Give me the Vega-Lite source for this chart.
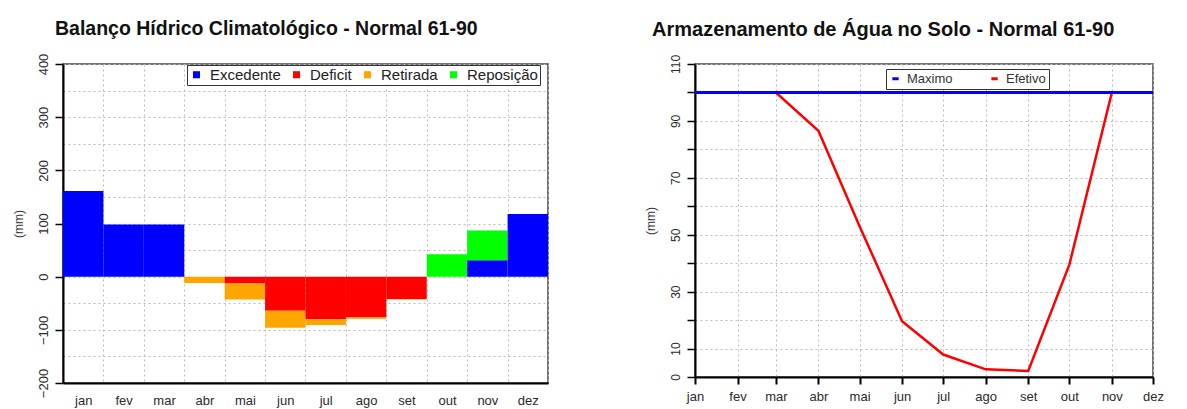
{
  "$schema": "https://vega.github.io/schema/vega-lite/v6.json",
  "background": "white",
  "padding": {"left": 11, "top": 17, "right": 0, "bottom": 0},
  "spacing": 94,
  "config": {
    "font": "Liberation Sans",
    "axis": {"labelFont": "Liberation Sans", "titleFont": "Liberation Sans", "labelColor": "#2a2a2a", "titleColor": "#333", "titleFontWeight": "normal"}
  },
  "resolve": {"scale": {"color": "independent"}, "legend": {"color": "independent"}},
  "hconcat": [
    {
      "width": 485,
      "height": 319,
      "view": {"stroke": "#444", "strokeWidth": 1.5},
      "title": {"text": "Balanço Hídrico Climatológico - Normal 61-90", "anchor": "start", "frame": "group", "dx": -8, "font": "Liberation Sans", "fontSize": 19.5, "fontWeight": "bold", "color": "#111", "offset": 14},
      "data": {"values": [
        {"mes": "jan", "tipo": "Excedente", "valor": 161},
        {"mes": "fev", "tipo": "Excedente", "valor": 98},
        {"mes": "mar", "tipo": "Excedente", "valor": 98},
        {"mes": "abr", "tipo": "Retirada", "valor": -12},
        {"mes": "mai", "tipo": "Deficit", "valor": -13},
        {"mes": "mai", "tipo": "Retirada", "valor": -30},
        {"mes": "jun", "tipo": "Deficit", "valor": -64},
        {"mes": "jun", "tipo": "Retirada", "valor": -32},
        {"mes": "jul", "tipo": "Deficit", "valor": -80},
        {"mes": "jul", "tipo": "Retirada", "valor": -11},
        {"mes": "ago", "tipo": "Deficit", "valor": -76},
        {"mes": "ago", "tipo": "Retirada", "valor": -3},
        {"mes": "set", "tipo": "Deficit", "valor": -42},
        {"mes": "set", "tipo": "Retirada", "valor": -1},
        {"mes": "out", "tipo": "Reposição", "valor": 42},
        {"mes": "nov", "tipo": "Excedente", "valor": 31},
        {"mes": "nov", "tipo": "Reposição", "valor": 56},
        {"mes": "dez", "tipo": "Excedente", "valor": 118}
      ]},
      "mark": {"type": "bar"},
      "encoding": {
        "x": {
          "field": "mes", "type": "nominal",
          "sort": ["jan", "fev", "mar", "abr", "mai", "jun", "jul", "ago", "set", "out", "nov", "dez"],
          "scale": {"domain": ["jan", "fev", "mar", "abr", "mai", "jun", "jul", "ago", "set", "out", "nov", "dez"], "paddingInner": 0, "paddingOuter": 0},
          "axis": {"title": null, "tickBand": "extent", "ticks": false, "labelAngle": 0, "labelFontSize": 13, "labelPadding": 11, "grid": true, "gridColor": "#bbb", "gridDash": [2, 3], "gridWidth": 1, "domainColor": "#000", "domainWidth": 2}
        },
        "y": {
          "field": "valor", "type": "quantitative", "stack": "zero",
          "scale": {"domain": [-200, 400], "nice": false},
          "axis": {
            "title": "(mm)", "titleFontSize": 12, "titlePadding": 12,
            "values": [-200, -150, -100, -50, 0, 50, 100, 150, 200, 250, 300, 350, 400],
            "labelExpr": "datum.value % 100 === 0 ? datum.label : ''",
            "labelAngle": -90, "labelFontSize": 13, "labelPadding": 5,
            "tickSize": 8, "tickColor": "#000", "tickWidth": 1.5,
            "tickOpacity": {"condition": {"test": "datum.value % 100 === 0", "value": 1}, "value": 0},
            "grid": true, "gridColor": "#bbb", "gridDash": [2, 3], "gridWidth": 1,
            "domainColor": "#000", "domainWidth": 2
          }
        },
        "color": {
          "field": "tipo", "type": "nominal",
          "sort": ["Excedente", "Deficit", "Retirada", "Reposição"],
          "scale": {"domain": ["Excedente", "Deficit", "Retirada", "Reposição"], "range": ["#0000ff", "#ff0000", "#ffa500", "#00ff00"]},
          "legend": {"title": null, "orient": "none", "legendX": 124, "legendY": 1, "direction": "horizontal", "symbolType": "square", "symbolSize": 50, "symbolStrokeWidth": 0, "labelFontSize": 15, "labelFont": "Liberation Sans", "labelColor": "#222", "strokeColor": "#333", "fillColor": "white", "padding": 2, "columnPadding": 8, "labelOffset": 6}
        },
        "order": {"field": "tipo", "sort": "ascending"}
      }
    },
    {
      "width": 458,
      "height": 313,
      "view": {"stroke": "#444", "strokeWidth": 1.5},
      "title": {"text": "Armazenamento de Água no Solo - Normal 61-90", "anchor": "start", "frame": "group", "dx": -43, "font": "Liberation Sans", "fontSize": 20, "fontWeight": "bold", "color": "#111", "offset": 14},
      "data": {"values": [
        {"data": "2001-01-01", "serie": "Maximo", "valor": 100},
        {"data": "2001-02-01", "serie": "Maximo", "valor": 100},
        {"data": "2001-03-01", "serie": "Maximo", "valor": 100},
        {"data": "2001-04-01", "serie": "Maximo", "valor": 100},
        {"data": "2001-05-01", "serie": "Maximo", "valor": 100},
        {"data": "2001-06-01", "serie": "Maximo", "valor": 100},
        {"data": "2001-07-01", "serie": "Maximo", "valor": 100},
        {"data": "2001-08-01", "serie": "Maximo", "valor": 100},
        {"data": "2001-09-01", "serie": "Maximo", "valor": 100},
        {"data": "2001-10-01", "serie": "Maximo", "valor": 100},
        {"data": "2001-11-01", "serie": "Maximo", "valor": 100},
        {"data": "2001-12-01", "serie": "Maximo", "valor": 100},
        {"data": "2001-01-01", "serie": "Efetivo", "valor": 100},
        {"data": "2001-02-01", "serie": "Efetivo", "valor": 100},
        {"data": "2001-03-01", "serie": "Efetivo", "valor": 100},
        {"data": "2001-04-01", "serie": "Efetivo", "valor": 86.5},
        {"data": "2001-05-01", "serie": "Efetivo", "valor": 53},
        {"data": "2001-06-01", "serie": "Efetivo", "valor": 19.6},
        {"data": "2001-07-01", "serie": "Efetivo", "valor": 7.9},
        {"data": "2001-08-01", "serie": "Efetivo", "valor": 2.7},
        {"data": "2001-09-01", "serie": "Efetivo", "valor": 2.1},
        {"data": "2001-10-01", "serie": "Efetivo", "valor": 39.5},
        {"data": "2001-11-01", "serie": "Efetivo", "valor": 100},
        {"data": "2001-12-01", "serie": "Efetivo", "valor": 100}
      ]},
      "encoding": {
        "x": {
          "field": "data", "type": "temporal",
          "scale": {"type": "utc", "nice": false},
          "axis": {
            "title": null, "tickCount": {"interval": "month", "step": 1},
            "labelExpr": "['jan','fev','mar','abr','mai','jun','jul','ago','set','out','nov','dez'][utcmonth(datum.value)]",
            "labelAngle": 0, "labelFontSize": 13, "labelPadding": 6, "labelFlush": false, "labelOverlap": false,
            "tickSize": 7, "tickColor": "#000", "tickWidth": 2,
            "grid": true, "gridColor": "#bbb", "gridDash": [2, 3], "gridWidth": 1,
            "domainColor": "#000", "domainWidth": 2
          }
        },
        "y": {
          "field": "valor", "type": "quantitative",
          "scale": {"domain": [0, 110], "nice": false},
          "axis": {
            "title": "(mm)", "titleFontSize": 12, "titlePadding": 12,
            "values": [0, 10, 20, 30, 40, 50, 60, 70, 80, 90, 100, 110],
            "labelExpr": "datum.value == 0 || datum.value % 20 == 10 ? datum.label : ''",
            "labelAngle": -90, "labelFontSize": 12, "labelPadding": 5,
            "tickSize": 8, "tickColor": "#000", "tickWidth": 1.5,
            "grid": true, "gridColor": "#bbb", "gridDash": [2, 3], "gridWidth": 1,
            "domainColor": "#000", "domainWidth": 2
          }
        },
        "color": {
          "field": "serie", "type": "nominal",
          "scale": {"domain": ["Maximo", "Efetivo"], "range": ["#0000ff", "#ff0000"]},
          "legend": {"title": null, "orient": "none", "legendX": 191, "legendY": 5, "direction": "horizontal", "symbolType": "stroke", "symbolSize": 40, "symbolStrokeWidth": 3, "labelFontSize": 13, "labelFont": "Liberation Sans", "labelColor": "#333", "strokeColor": "#333", "fillColor": "white", "padding": 3, "columnPadding": 32, "labelOffset": 5}
        }
      },
      "layer": [
        {"transform": [{"filter": "datum.serie === 'Efetivo'"}], "mark": {"type": "line", "strokeWidth": 2.5}},
        {"transform": [{"filter": "datum.serie === 'Maximo'"}], "mark": {"type": "line", "strokeWidth": 3}}
      ]
    }
  ]
}
